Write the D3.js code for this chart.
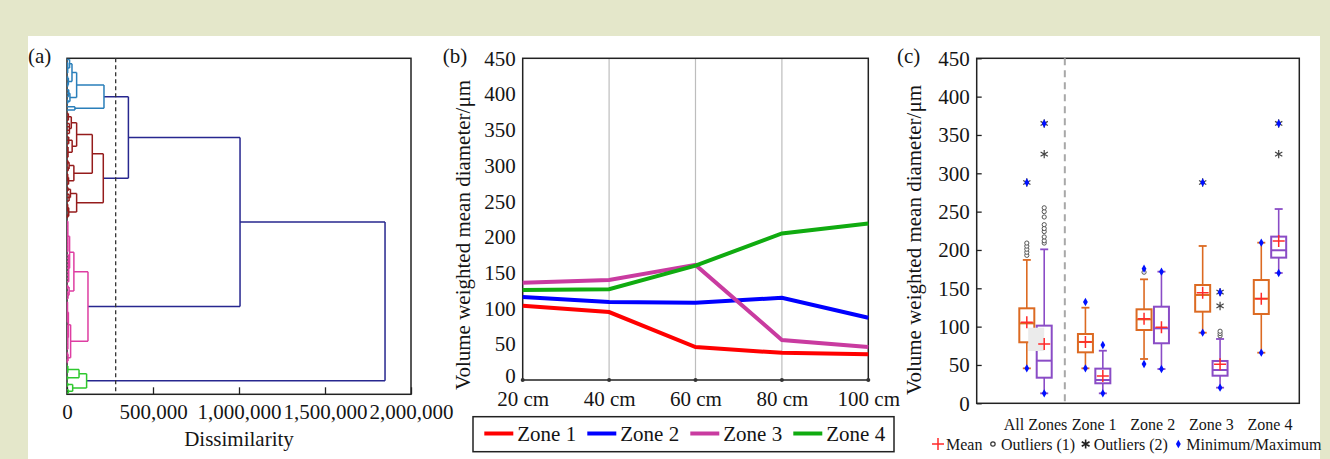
<!DOCTYPE html>
<html lang="en">
<head>
<meta charset="UTF-8">
<title>Grain size by zone</title>
<style>
  body { margin: 0; background: #e4e7ca; }
  svg { display: block; }
  text { font-family: "Liberation Serif", "Times New Roman", serif; fill: #151515; }
</style>
</head>
<body>
<script src="https://d3js.org/d3.v7.min.js"></script>
<script>
// ---------- data ----------
// (a) dendrogram, heights in thousands; node = [height, ...children], leaf = 0
var blueCluster = [215,
  [56, [29, [15, 0, [4, 0, 0, 0, 0]], [8, [3, 0, 0], [4, 0, 0]]],
       [17, [10, 0, 0, 0], [5, 0, 0]]],
  [46, 0, 0]];
var brownCluster = [211,
  [147, [56, [25, [8, 0, 0, 0], [14, 0, 0, 0, 0]], [30, [10, 0, 0, 0], [6, 0, 0, 0, 0]]],
        [40, [12, [5, 0, 0], [7, 0, 0]], [9, [4, 0, 0, 0], 0]]],
  [56, [20, [6, 0, 0], [12, 0, 0, 0]], [10, [4, 0, 0, 0], [3, 0, 0]]]];
var magentaCluster = [122,
  [40, [15, [5, 0, 0, 0, 0, 0, 0, 0, 0, 0, 0], [10, 0, 0, 0, 0, 0, 0, 0, 0, 0]],
       [12, [4, 0, 0], [6, 0, 0, 0]]],
  [21, [8, [3, 0, 0, 0, 0, 0, 0, 0], [5, 0, 0, 0, 0, 0, 0, 0, 0]],
       [6, [3, 0, 0], [2, 0, 0]]]];
var greenCluster = [114,
  [70, [5, 0, 0, 0], [3, 0, 0]],
  [33, [4, 0, 0], [8, 0, 0]]];
var dendroTree = [1849, [1006, [357, blueCluster, brownCluster], magentaCluster], greenCluster];
var clusterColors = ["#2a7fba", "#951c1c", "#de3ea2", "#2ec82e"];
var linkColor = "#27278f";
var cutHeight = 283;
var dissimTicks = [0, 500, 1000, 1500, 2000];

// (b) depth profiles
var depthLabels = ["20 cm", "40 cm", "60 cm", "80 cm", "100 cm"];
var zoneNames = ["Zone 1", "Zone 2", "Zone 3", "Zone 4"];
var zone1Depth = [104, 95, 46, 38, 36];
var zone2Depth = [116, 109, 108, 115, 87];
var zone3Depth = [136, 140, 161, 56, 46];
var zone4Depth = [126, 127, 160, 205, 219];
var zoneColors = ["#ff0000", "#0000ff", "#c93ba0", "#10ab10"];
var diamTicks = [0, 50, 100, 150, 200, 250, 300, 350, 400, 450];

// (c) box plots: [lowWhisker, q1, median, q3, highWhisker, mean]
var boxCategories = ["All Zones", "Zone 1", "Zone 2", "Zone 3", "Zone 4"];
var orangeStats = [[45.6, 79.6, 104.3, 123.9, 187, 105.6], [45.6, 66.5, 80, 90.4, 124.7, 80],
  [57.8, 95.6, 109.5, 122.6, 161.7, 110.4], [92.1, 119.5, 141.3, 154.3, 205.2, 144.3],
  [66, 116.5, 136.5, 160.8, 209.5, 136.5]];
var purpleStats = [[13, 33.4, 55.6, 101.3, 200.8, 77.3], [13, 26.1, 30.4, 45.2, 68.6, 35.6],
  [44.7, 78.3, 97.8, 126, 171.7, 99.1], [20.4, 36, 43.4, 55.2, 83.9, 50.9],
  [170, 190, 199.6, 217.4, 253.4, 211.7]];
var orangeMin = [45.6, 45.6, 51.3, 92.1, 66];
var orangeMax = [288, 132.1, 175.6, 288, 209.5];
var purpleMin = [13, 13, 44.7, 20.4, 170];
var purpleMax = [365, 76, 171.7, 144.8, 365];
var orangeOut1 = [[193, 197, 201, 205, 209], [], [171], [], []];
var purpleOut1 = [[209, 212, 217, 224, 228, 233, 243, 250, 255], [], [], [88, 91, 94], []];
var orangeOut2 = [[288], [], [], [288], []];
var purpleOut2 = [[325, 365], [], [], [127, 145], [325, 365]];
var orangeColor = "#dc6a22", purpleColor = "#8a4cc6";

// ---------- page ----------
var serif = "'Liberation Serif', 'Times New Roman', serif";
var svg = d3.select("body").append("svg").attr("width", 1330).attr("height", 459);
svg.append("rect").attr("width", 1330).attr("height", 459).attr("fill", "#e4e7ca");
svg.append("rect").attr("x", 28).attr("y", 36).attr("width", 1292).attr("height", 423).attr("fill", "#fff");

function styleAxis(g, size) {
  g.attr("font-family", serif).attr("font-size", size);
  g.select(".domain").remove();
  g.selectAll(".tick line").attr("stroke", "#222").attr("stroke-width", 1.3);
  g.selectAll(".tick text").attr("fill", "#151515");
}

// ---------- (a) dendrogram ----------
var xA = d3.scaleLinear().domain([0, 2000]).range([67, 411]);
var root = d3.hierarchy(dendroTree, function(d) { return Array.isArray(d) ? d.slice(1) : null; });
var nLeaves = root.leaves().length;
d3.cluster().size([nLeaves, 1]).separation(function() { return 1; })(root);
var yA = d3.scaleLinear().domain([0.5, nLeaves - 0.5]).range([59.5, 393]);
root.each(function(n) { n.h = n.children ? n.data[0] : 0; });
var ci = 0;
root.eachBefore(function(n) {
  if (n.h > cutHeight) n.color = linkColor;
  else if (n.parent && n.parent.h > cutHeight) n.color = clusterColors[ci++];
  else n.color = n.parent.color;
});

var gA = svg.append("g");
gA.append("rect").attr("x", 67).attr("y", 58.3).attr("width", 344).attr("height", 336)
  .attr("fill", "none").attr("stroke", "#222").attr("stroke-width", 1.5);

var axA = gA.append("g").attr("transform", "translate(0,394.3)")
  .call(d3.axisBottom(xA).tickValues(dissimTicks).tickSizeInner(-7).tickSizeOuter(0).tickPadding(10)
    .tickFormat(function(d) { return d3.format(",")(d * 1000); }));
styleAxis(axA, 21);

root.descendants().filter(function(n) { return n.children; }).forEach(function(n) {
  var kids = n.children;
  var p = d3.path();
  p.moveTo(xA(n.h), yA(kids[0].x));
  p.lineTo(xA(n.h), yA(kids[kids.length - 1].x));
  kids.forEach(function(k) {
    p.moveTo(xA(k.h), yA(k.x));
    p.lineTo(xA(n.h), yA(k.x));
  });
  gA.append("path").attr("d", p.toString()).attr("fill", "none")
    .attr("stroke", n.color).attr("stroke-width", 1.5);
});

gA.append("line").attr("x1", xA(cutHeight)).attr("x2", xA(cutHeight)).attr("y1", 58.3).attr("y2", 394.3)
  .attr("stroke", "#333").attr("stroke-width", 1.3).attr("stroke-dasharray", "4,3");
gA.append("text").attr("x", 239).attr("y", 446).attr("text-anchor", "middle")
  .attr("font-size", 21).text("Dissimilarity");
gA.append("text").attr("x", 28).attr("y", 63).attr("font-size", 21).text("(a)");

// ---------- (b) line chart ----------
var xB = d3.scalePoint().domain(depthLabels).range([522.7, 868.3]);
var yB = d3.scaleLinear().domain([0, 450]).range([380, 58.3]);
var gB = svg.append("g");
gB.selectAll(".grid").data(depthLabels.slice(1, -1)).enter().append("line")
  .attr("x1", function(d) { return xB(d); }).attr("x2", function(d) { return xB(d); })
  .attr("y1", 58.3).attr("y2", 380).attr("stroke", "#bdbdbd").attr("stroke-width", 1.2);
gB.append("rect").attr("x", 522.7).attr("y", 58.3).attr("width", 345.6).attr("height", 321.7)
  .attr("fill", "none").attr("stroke", "#222").attr("stroke-width", 1.5);

var axBy = gB.append("g").attr("transform", "translate(522.7,0)")
  .call(d3.axisLeft(yB).tickValues(diamTicks).tickSize(0).tickPadding(7));
styleAxis(axBy, 21);
// lift the bottom "0" a touch so it clears the depth labels
axBy.selectAll(".tick text").filter(function(d) { return d === 0; }).attr("dy", "0.1em");
var axBx = gB.append("g").attr("transform", "translate(0,380)")
  .call(d3.axisBottom(xB).tickSize(0).tickPadding(11));
styleAxis(axBx, 21);
gB.selectAll(".tickdot").data(depthLabels).enter().append("circle")
  .attr("cx", function(d) { return xB(d); }).attr("cy", 380).attr("r", 2).attr("fill", "#333");

var zoneSeries = [zone1Depth, zone2Depth, zone3Depth, zone4Depth];
var lineB = d3.line().x(function(d, i) { return xB(depthLabels[i]); }).y(function(d) { return yB(d); });
zoneSeries.forEach(function(s, i) {
  gB.append("path").attr("d", lineB(s)).attr("fill", "none")
    .attr("stroke", zoneColors[i]).attr("stroke-width", 4);
});

gB.append("text").attr("transform", "translate(463,235) rotate(-90)").attr("text-anchor", "middle")
  .attr("dy", "0.35em").attr("font-size", 21).text("Volume weighted mean diameter/\u03bcm");
gB.append("text").attr("x", 442.7).attr("y", 63).attr("font-size", 21).text("(b)");

var legB = gB.append("g");
legB.append("rect").attr("x", 473).attr("y", 416.7).attr("width", 421).attr("height", 35)
  .attr("fill", "#fff").attr("stroke", "#222").attr("stroke-width", 1.5);
zoneNames.forEach(function(name, i) {
  var x0 = 484.3 + i * 103;
  legB.append("line").attr("x1", x0).attr("x2", x0 + 29).attr("y1", 433.5).attr("y2", 433.5)
    .attr("stroke", zoneColors[i]).attr("stroke-width", 4);
  legB.append("text").attr("x", x0 + 33).attr("y", 440.5).attr("font-size", 21).text(name);
});

// ---------- (c) box plots ----------
var xC = d3.scaleBand().domain(boxCategories).range([1006.2, 1299.3]);
var bw = xC.bandwidth();
var xSub = d3.scaleBand().domain(["orange", "purple"]).range([bw / 2 - 17.4, bw / 2 + 17.4]);
var yC = d3.scaleLinear().domain([0, 450]).range([403.3, 58.3]);
var gC = svg.append("g");

gC.append("rect").attr("x", 976.7).attr("y", 58.3).attr("width", 322.6).attr("height", 345)
  .attr("fill", "none").attr("stroke", "#222").attr("stroke-width", 1.5);
var axCy = gC.append("g").attr("transform", "translate(976.7,0)")
  .call(d3.axisLeft(yC).tickValues(diamTicks).tickSizeInner(-5).tickSizeOuter(0).tickPadding(7));
styleAxis(axCy, 21);
gC.selectAll(".cat").data(boxCategories).enter().append("text")
  .attr("x", function(d) { return xC(d) + bw / 2; }).attr("y", 430)
  .attr("text-anchor", "middle").attr("font-size", 16).text(function(d) { return d; });

var divX = xC(boxCategories[1]);
gC.append("line").attr("x1", divX).attr("x2", divX).attr("y1", 58.3).attr("y2", 403.3)
  .attr("stroke", "#a8a8a8").attr("stroke-width", 2).attr("stroke-dasharray", "7,5");

var boxW = 15, capW = 8;
function asteriskPath(cx, cy, r) {
  var p = d3.path();
  for (var k = 0; k < 3; k++) {
    var a = Math.PI / 2 + k * Math.PI / 3;
    p.moveTo(cx + r * Math.cos(a), cy + r * Math.sin(a));
    p.lineTo(cx - r * Math.cos(a), cy - r * Math.sin(a));
  }
  return p.toString();
}
var diamond = d3.symbol().type(d3.symbolDiamond).size(20);

function drawSeries(key, stats, color, mins, maxs, out1, out2) {
  boxCategories.forEach(function(cat, i) {
    var s = stats[i];
    var cx = xC(cat) + xSub(key) + xSub.bandwidth() / 2;
    var g = gC.append("g");
    g.append("line").attr("x1", cx).attr("x2", cx).attr("y1", yC(s[3])).attr("y2", yC(s[4]))
      .attr("stroke", color).attr("stroke-width", 1.6);
    g.append("line").attr("x1", cx).attr("x2", cx).attr("y1", yC(s[1])).attr("y2", yC(s[0]))
      .attr("stroke", color).attr("stroke-width", 1.6);
    [s[0], s[4]].forEach(function(v) {
      g.append("line").attr("x1", cx - capW / 2).attr("x2", cx + capW / 2)
        .attr("y1", yC(v)).attr("y2", yC(v)).attr("stroke", color).attr("stroke-width", 1.8);
    });
    g.append("rect").attr("x", cx - boxW / 2).attr("y", yC(s[3])).attr("width", boxW)
      .attr("height", yC(s[1]) - yC(s[3])).attr("fill", "#fff")
      .attr("stroke", color).attr("stroke-width", 2);
    g.append("line").attr("x1", cx - boxW / 2).attr("x2", cx + boxW / 2)
      .attr("y1", yC(s[2])).attr("y2", yC(s[2])).attr("stroke", color).attr("stroke-width", 2);
    if (key === "purple" && i === 0) {
      // grey patch present in the source figure
      gC.append("rect").attr("x", cx - 16).attr("y", yC(98.6)).attr("width", 16)
        .attr("height", yC(68.2) - yC(98.6)).attr("fill", "#ebebeb");
    }
    out1[i].forEach(function(v) {
      gC.append("circle").attr("cx", cx).attr("cy", yC(v)).attr("r", 2.1)
        .attr("fill", "#fff").attr("stroke", "#555").attr("stroke-width", 1);
    });
    out2[i].forEach(function(v) {
      gC.append("path").attr("d", asteriskPath(cx, yC(v), 4.2)).attr("stroke", "#444")
        .attr("stroke-width", 1.2).attr("fill", "none");
    });
    [mins[i], maxs[i]].forEach(function(v) {
      gC.append("path").attr("d", diamond()).attr("transform", "translate(" + cx + "," + yC(v) + ")")
        .attr("fill", "#0010ff");
    });
    var my = yC(s[5]);
    gC.append("path").attr("d", "M" + (cx - 6) + "," + my + "H" + (cx + 6) + "M" + cx + "," + (my - 6) + "V" + (my + 6))
      .attr("stroke", "#ff2a2a").attr("stroke-width", 1.5).attr("fill", "none");
  });
}
drawSeries("orange", orangeStats, orangeColor, orangeMin, orangeMax, orangeOut1, orangeOut2);
drawSeries("purple", purpleStats, purpleColor, purpleMin, purpleMax, purpleOut1, purpleOut2);

gC.append("text").attr("transform", "translate(913.3,240) rotate(-90)").attr("text-anchor", "middle")
  .attr("dy", "0.35em").attr("font-size", 21).text("Volume weighted mean diameter/\u03bcm");
gC.append("text").attr("x", 897).attr("y", 63).attr("font-size", 21).text("(c)");

// bottom legend of (c)
var legItems = ["Mean", "Outliers (1)", "Outliers (2)", "Minimum/Maximum"];
var cursor = 932, ly = 444;
legItems.forEach(function(label, i) {
  var sx = cursor + 6;
  if (i === 0) {
    gC.append("path").attr("d", "M" + (sx - 6) + "," + ly + "H" + (sx + 6) + "M" + sx + "," + (ly - 6) + "V" + (ly + 6))
      .attr("stroke", "#ff2a2a").attr("stroke-width", 1.5);
  } else if (i === 1) {
    gC.append("circle").attr("cx", sx).attr("cy", ly).attr("r", 2.2).attr("fill", "#fff")
      .attr("stroke", "#333").attr("stroke-width", 1.2);
  } else if (i === 2) {
    gC.append("path").attr("d", asteriskPath(sx, ly, 4.5)).attr("stroke", "#222").attr("stroke-width", 1.6);
  } else {
    gC.append("path").attr("d", diamond()).attr("transform", "translate(" + sx + "," + ly + ")").attr("fill", "#0010ff");
  }
  var t = gC.append("text").attr("x", cursor + 14).attr("y", 449.5).attr("font-size", 16).text(label);
  cursor += 14 + t.node().getComputedTextLength() + 4.5;
});
</script>
</body>
</html>
